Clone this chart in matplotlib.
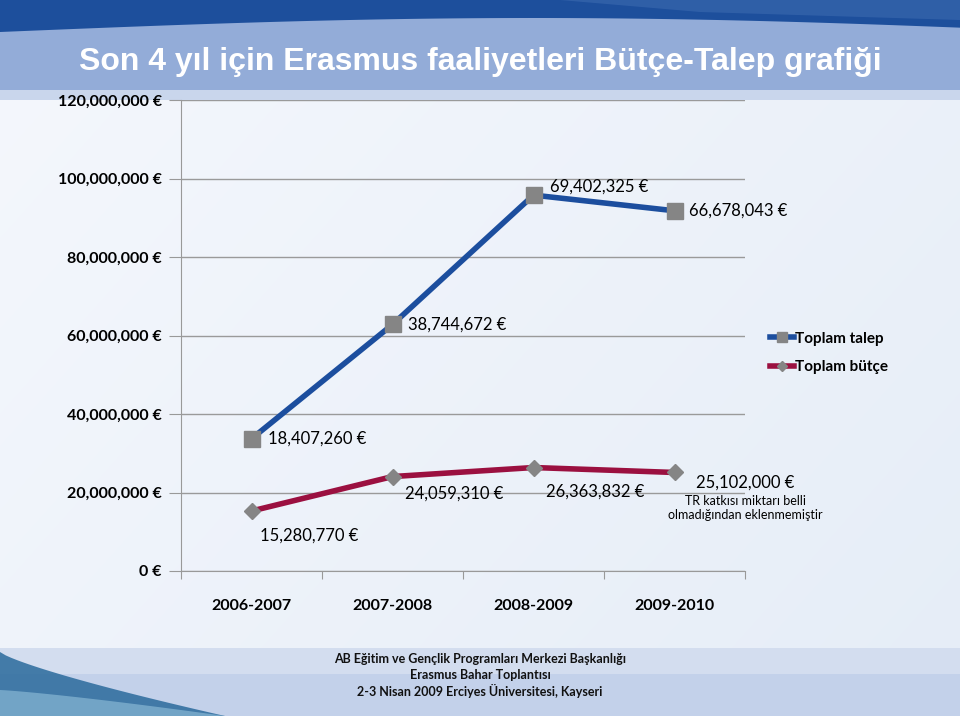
import numpy as np
import matplotlib.pyplot as plt
from matplotlib.patches import Polygon

# chart data
years = ['2006-2007', '2007-2008', '2008-2009', '2009-2010']
butce = [15280770, 24059310, 26363832, 25102000]
talep = [18407260, 38744672, 69402325, 66678043]
yticks = [0, 20000000, 40000000, 60000000, 80000000, 100000000, 120000000]

title = 'Son 4 yıl için Erasmus faaliyetleri Bütçe-Talep grafiği'
note = 'TR katkısı miktarı belli\nolmadığından eklenmemiştir'
footer = ['AB Eğitim ve Gençlik Programları Merkezi Başkanlığı',
          'Erasmus Bahar Toplantısı',
          '2-3 Nisan 2009 Erciyes Üniversitesi, Kayseri']

blue = '#1c4e9e'
red = '#9b1040'
grey_m = '#858585'
body = ['Lato', 'DejaVu Sans']

def euro(v):
    return '{:,} €'.format(v)

fig = plt.figure(figsize=(9.6, 7.16), dpi=100)

# slide background
bg = fig.add_axes([0, 0, 1, 1], zorder=-10)
bg.set_xlim(0, 960)
bg.set_ylim(716, 0)
bg.axis('off')
yy, xx = np.mgrid[0:716, 0:960]
t = np.clip(xx / 960 * 0.6 + yy / 716 * 0.4, 0, 1)
c1 = np.array([0.96, 0.97, 0.99])
c2 = np.array([0.90, 0.93, 0.97])
img = c1 * (1 - t[..., None]) + c2 * t[..., None]
bg.imshow(img, extent=[0, 960, 716, 0], aspect='auto')
# header bands
bg.add_patch(Polygon([[0, 0], [960, 0], [960, 100], [0, 100]], color='#c9d6ec', lw=0))
bg.add_patch(Polygon([[0, 0], [960, 0], [960, 90], [0, 90]], color='#93acd8', lw=0))
xs = np.linspace(0, 960, 60)
curve = 32 - 14 * np.sin(xs / 960 * np.pi * 0.9)
top_band = np.column_stack([xs, curve]).tolist() + [[960, 0], [0, 0]]
bg.add_patch(Polygon(top_band, color='#1d4f9c', lw=0))
bg.add_patch(Polygon([[560, 0], [960, 0], [960, 20], [700, 12]], color='#3c6ab0', lw=0, alpha=0.6))
# footer bands
bg.add_patch(Polygon([[0, 648], [960, 648], [960, 716], [0, 716]], color='#d3ddef', lw=0))
bg.add_patch(Polygon([[0, 674], [960, 674], [960, 716], [0, 716]], color='#c3d1ea', lw=0))
sx = np.linspace(0, 225, 40)
sy = 652 + 64 * (sx / 225) ** 0.8
swoosh = np.column_stack([sx, sy]).tolist() + [[0, 716]]
bg.add_patch(Polygon(swoosh, color='#2a6a9c', lw=0, alpha=0.85))
sy2 = 690 + 26 * (sx / 225) ** 1.2
bg.add_patch(Polygon(np.column_stack([sx, sy2]).tolist() + [[0, 716]], color='#7fb0cf', lw=0, alpha=0.8))

fig.text(0.5, 1 - 62 / 716, title, ha='center', va='center', color='white',
         fontsize=23, fontweight='bold', family=['Liberation Sans', 'DejaVu Sans'])
for i, line in enumerate(footer):
    fig.text(0.5, 1 - (659 + i * 16) / 716, line, ha='center', va='center',
             fontsize=9, fontweight='bold', family=body, color='#111111')

# chart
ax = fig.add_axes([181 / 960, 1 - 571 / 716, (745 - 181) / 960, (571 - 100) / 716])
ax.patch.set_alpha(0)
x = np.arange(len(years))
stack = np.array(butce) + np.array(talep)

ax.plot(x, stack, color=blue, lw=4, marker='s', ms=12, mfc=grey_m, mec=grey_m,
        label='Toplam talep', zorder=3)
ax.plot(x, butce, color=red, lw=4, marker='D', ms=8, mfc=grey_m, mec=grey_m,
        label='Toplam bütçe', zorder=3)

ax.set_xlim(-0.5, len(years) - 0.5)
ax.set_ylim(0, 120000000)
ax.set_yticks(yticks)
ax.set_yticklabels([euro(v) for v in yticks], fontweight='bold', family=body, fontsize=11.5)
ax.set_xticks(np.arange(len(years) + 1) - 0.5)
ax.set_xticklabels([])
ax.set_xticks(x, minor=True)
ax.set_xticklabels(years, minor=True, fontweight='bold', family=body, fontsize=11.5)
ax.tick_params(axis='x', which='minor', length=0, pad=20)
ax.tick_params(axis='x', which='major', length=6, color='#999999', direction='out')
ax.tick_params(axis='y', length=9, color='#999999', pad=5)
ax.grid(axis='y', color='#9a9a9a', lw=1)
ax.set_axisbelow(True)
for s in ['top', 'right']:
    ax.spines[s].set_visible(False)
for s in ['left', 'bottom']:
    ax.spines[s].set_color('#999999')

# data labels
talep_off = [(16, 0), (16, 0), (16, 8), (14, 0)]
for i in range(len(years)):
    ax.annotate(euro(talep[i]), (x[i], stack[i]), xytext=talep_off[i], textcoords='offset pixels',
                ha='left', va='center', fontsize=12, family=body)
butce_off = [(58, -25), (62, -17), (62, -24)]
for i in range(3):
    ax.annotate(euro(butce[i]), (x[i], butce[i]), xytext=butce_off[i], textcoords='offset pixels',
                ha='center', va='center', fontsize=12, family=body)
ax.annotate(euro(butce[3]), (x[3], butce[3]), xytext=(71, -10), textcoords='offset pixels',
            ha='center', va='center', fontsize=12, family=body, annotation_clip=False)
ax.annotate(note, (x[3], butce[3]), xytext=(71, -36), textcoords='offset pixels',
            ha='center', va='center', fontsize=9, family=body, linespacing=1.2,
            annotation_clip=False)

leg = ax.legend(loc='center left', bbox_to_anchor=(1.02, 0.463), frameon=False,
                prop={'family': body, 'weight': 'bold', 'size': 11},
                handlelength=1.6, handletextpad=0.05, labelspacing=0.95, markerscale=0.6)

fig.savefig('out.png', dpi=100)
